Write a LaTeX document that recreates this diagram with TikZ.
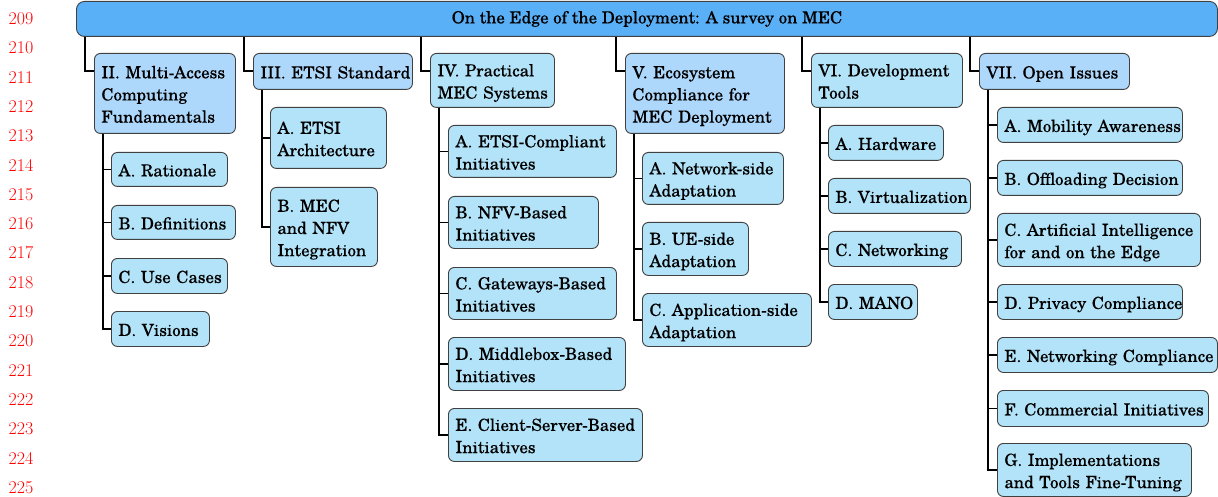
\documentclass[tikz,border=0pt]{standalone}
\usepackage{fontspec}
\setmainfont{TeX Gyre Schola}
\newfontfamily\boxfont{TeX Gyre Schola}[FakeBold=0.1]
\usetikzlibrary{calc}
\definecolor{rootc}{RGB}{90,176,246}
\definecolor{lblue}{RGB}{174,216,251}
\definecolor{lcyan}{RGB}{178,227,248}
\definecolor{bordc}{RGB}{64,64,64}
\newcommand\lnfont{\usefont{TU}{lmr}{m}{n}\fontsize{18}{20}\selectfont}
\newcommand\bx[7]{%
  \pgfmathsetlengthmacro\bxw{(#5-#3)*1pt-14pt}%
  \pgfmathsetlengthmacro\bxh{(#6-#4)*1pt}%
  \node[#2, anchor=north west, text width=\bxw, minimum height=\bxh] (#1) at (#3,#4)
    {\noindent\raisebox{-2.6pt}[\height][\depth]{\begin{tabular}{@{}l@{}}#7\end{tabular}}};}
\tikzset{
  basebox/.style={draw=bordc, line width=0.9pt, rounded corners=6pt, inner xsep=7pt, inner ysep=0pt,
    align=left, font=\boxfont\fontsize{16.8}{22.2}\selectfont},
  rootbox/.style={basebox, fill=rootc, rounded corners=8pt, align=center},
  bluebox/.style={basebox, fill=lblue},
  cyanbox/.style={basebox, fill=lcyan},
  conn/.style={draw=black, line width=1.6pt},
  lnum/.style={text=red, font=\lnfont, inner sep=0pt}
}
\begin{document}
\begin{tikzpicture}[x=1pt, y=-1pt]
\useasboundingbox (0,0) rectangle (1218,497);
% line numbers
\foreach \n [count=\k from 0] in {209,...,225}{
  \node[lnum] (ln\n) at (21, {18.5+29.3*\k}) {\n};
}
% root
\node[rootbox, minimum width=1141pt, minimum height=35pt, anchor=north west] (root) at (76,1)
  {On the Edge of the Deployment: A survey on MEC};
% level 1
\bx{II}{bluebox}{94}{53}{235}{133}{II. Multi-Access\\Computing\\Fundamentals}
\bx{III}{bluebox}{253}{53}{412}{89}{III. ETSI Standard}
\bx{IV}{cyanbox}{430}{53}{554}{107}{IV. Practical\\MEC Systems}
\bx{V}{bluebox}{625}{53}{784}{133}{V. Ecosystem\\Compliance for\\MEC Deployment}
\bx{VI}{cyanbox}{811}{53}{962}{107}{VI. Development\\Tools}
\bx{VII}{bluebox}{979}{53}{1129}{89}{VII. Open Issues}
% level 2
\bx{IIa}{cyanbox}{111}{152}{227}{186}{A. Rationale}
\bx{IIb}{cyanbox}{111}{205}{235}{239}{B. Definitions}
\bx{IIc}{cyanbox}{111}{258}{227}{293}{C. Use Cases}
\bx{IId}{cyanbox}{111}{311}{209}{346}{D. Visions}
\bx{IIIa}{cyanbox}{270}{107}{386}{168}{A. ETSI\\Architecture}
\bx{IIIb}{cyanbox}{270}{187}{377}{266}{B. MEC\\and NFV\\Integration}
\bx{IVa}{cyanbox}{448}{125}{616}{177}{A. ETSI-Compliant\\Initiatives}
\bx{IVb}{cyanbox}{448}{196}{598}{248}{B. NFV-Based\\Initiatives}
\bx{IVc}{cyanbox}{448}{267}{616}{319}{C. Gateways-Based\\Initiatives}
\bx{IVd}{cyanbox}{448}{337}{625}{390}{D. Middlebox-Based\\Initiatives}
\bx{IVe}{cyanbox}{448}{408}{642}{461}{E. Client-Server-Based\\Initiatives}
\bx{Va}{cyanbox}{642}{152}{783}{204}{A. Network-side\\Adaptation}
\bx{Vb}{cyanbox}{642}{222}{748}{275}{B. UE-side\\Adaptation}
\bx{Vc}{cyanbox}{642}{293}{811}{346}{C. Application-side\\Adaptation}
\bx{VIa}{cyanbox}{828}{125}{943}{160}{A. Hardware}
\bx{VIb}{cyanbox}{828}{178}{970}{213}{B. Virtualization}
\bx{VIc}{cyanbox}{828}{231}{961}{266}{C. Networking}
\bx{VId}{cyanbox}{828}{284}{917}{319}{D. MANO}
\bx{VIIa}{cyanbox}{997}{107}{1182}{142}{A. Mobility Awareness}
\bx{VIIb}{cyanbox}{997}{160}{1182}{195}{B. Offloading Decision}
\bx{VIIc}{cyanbox}{997}{213}{1200}{266}{C. Artificial Intelligence\\for and on the Edge}
\bx{VIId}{cyanbox}{997}{284}{1182}{319}{D. Privacy Compliance}
\bx{VIIe}{cyanbox}{997}{337}{1217}{372}{E. Networking Compliance}
\bx{VIIf}{cyanbox}{997}{390}{1208}{426}{F. Commercial Initiatives}
\bx{VIIg}{cyanbox}{997}{443}{1191}{496}{G. Implementations\\and Tools Fine-Tuning}
% connectors root -> level 1
\foreach \p in {II,III,IV,V,VI,VII}{
  \coordinate (\p in) at ($(\p.north west)+(0,18)$);
  \coordinate (\p v) at ($(\p in)+(-9,0)$);
  \coordinate (\p t) at ($(\p.south west)+(9,0)$);
  \draw[conn] (\p v |- root.south) |- (\p in);
}
% connectors level 1 -> level 2
\foreach \p/\cs in {II/{a,b,c,d}, III/{a,b}, IV/{a,b,c,d,e}, V/{a,b,c}, VI/{a,b,c,d}, VII/{a,b,c,d,e,f,g}}{
  \foreach \c in \cs {
    \draw[conn] (\p t) |- (\p\c.west);
  }
}
\end{tikzpicture}
\end{document}
